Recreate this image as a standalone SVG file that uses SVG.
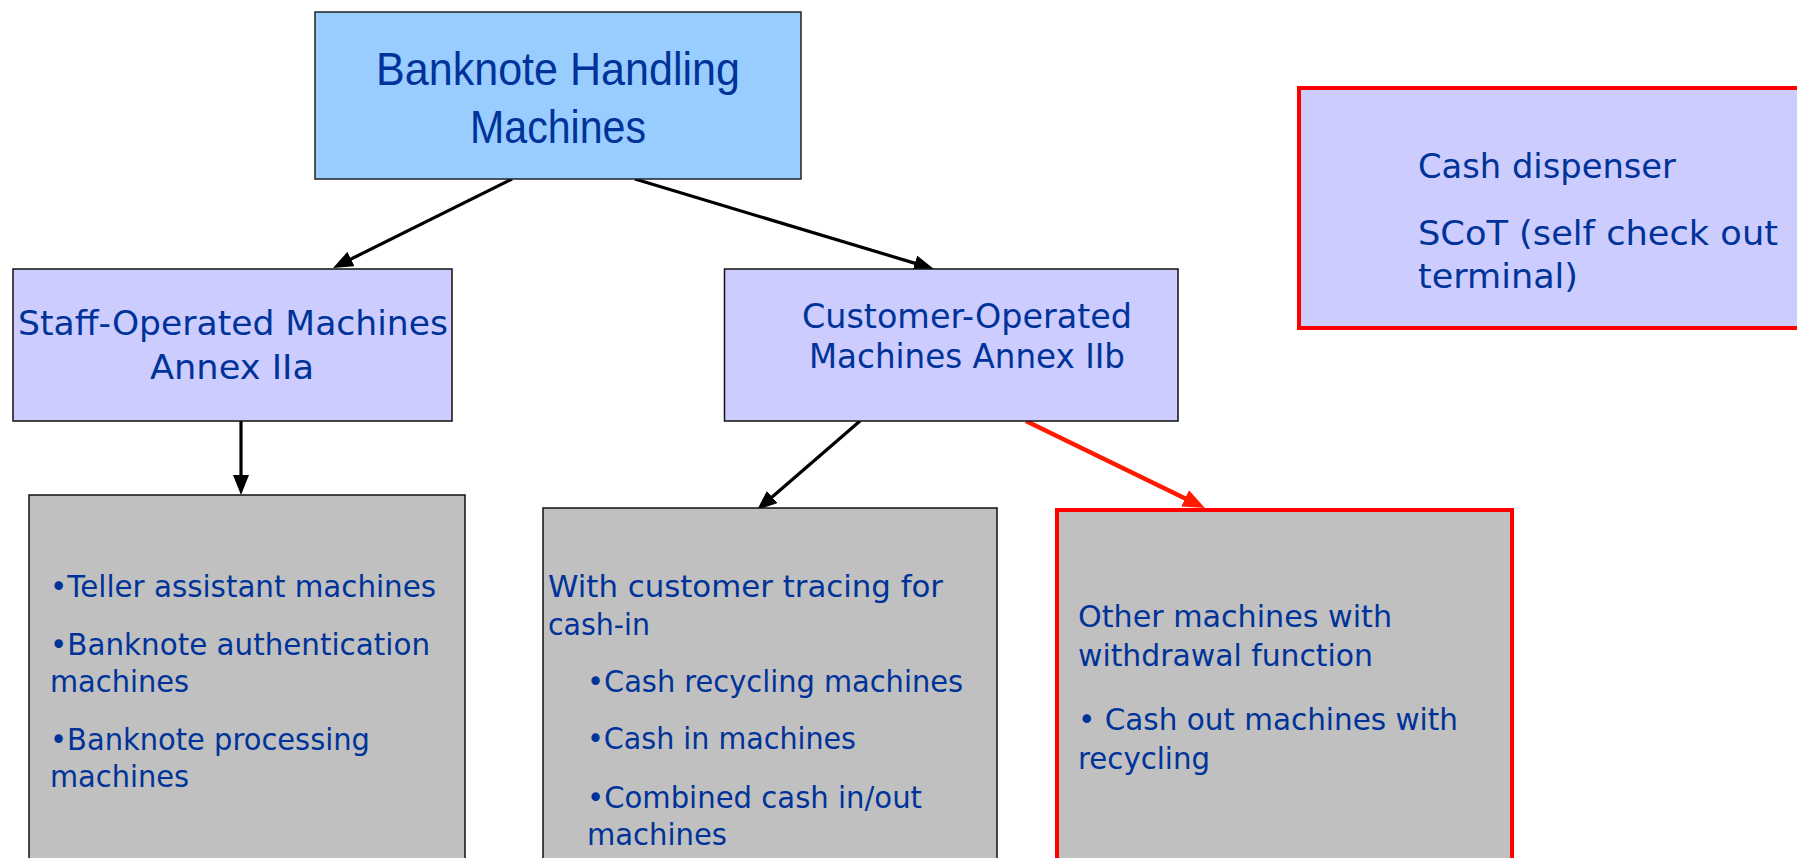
<svg xmlns="http://www.w3.org/2000/svg" width="1797" height="858" viewBox="0 0 1797 858">
<style>
.t{font-family:"DejaVu Sans","Liberation Sans",sans-serif;fill:#003399}
.title{font-family:"Liberation Sans","DejaVu Sans",sans-serif;fill:#003399;font-size:47px}
.blue{fill:#CCCCFF;stroke:#111;stroke-width:1.5}
.gray{fill:#C0C0C0;stroke:#111;stroke-width:1.5}
.red{fill:#C0C0C0;stroke:#FF0000;stroke-width:4}
.conn{stroke:#000;stroke-width:3.2;fill:none;marker-end:url(#ah)}
.connr{stroke:#FF1A00;stroke-width:4.5;fill:none;marker-end:url(#ahr)}
</style>
<defs>
<marker id="ah" markerUnits="userSpaceOnUse" markerWidth="20" markerHeight="16" refX="10" refY="8" orient="auto">
<path d="M0,0 L20,8 L0,16 z" fill="#000"/>
</marker>
<marker id="ahr" markerUnits="userSpaceOnUse" markerWidth="22" markerHeight="18" refX="11" refY="9" orient="auto">
<path d="M0,0 L22,9 L0,18 z" fill="#FF1A00"/>
</marker>
</defs>
<rect width="1797" height="858" fill="#fff"/>

<g id="connectors">
<line class="conn" x1="512" y1="179" x2="342" y2="263.5"/>
<line class="conn" x1="635" y1="179" x2="924.4" y2="266.1"/>
<line class="conn" x1="241" y1="421" x2="241" y2="485"/>
<line class="conn" x1="860" y1="421" x2="764.6" y2="503.5"/>
<line class="connr" x1="1026" y1="421" x2="1195" y2="503.2"/>
</g>

<g id="root">
<rect x="315" y="12" width="486" height="167" fill="#99CCFF" stroke="#222" stroke-width="1.5"/>
<text class="title" x="376" y="85" textLength="364" lengthAdjust="spacingAndGlyphs">Banknote Handling</text>
<text class="title" x="470" y="143" textLength="176" lengthAdjust="spacingAndGlyphs">Machines</text>
</g>

<g id="staff">
<rect class="blue" x="13" y="269" width="439" height="152"/>
<text class="t" font-size="34.5" x="18" y="335" textLength="430" lengthAdjust="spacingAndGlyphs">Staff-Operated Machines</text>
<text class="t" font-size="34.5" x="150" y="379" textLength="164" lengthAdjust="spacingAndGlyphs">Annex IIa</text>
</g>

<g id="customer">
<rect class="blue" x="724.5" y="269" width="453.5" height="152"/>
<text class="t" font-size="33" x="802" y="328" textLength="330" lengthAdjust="spacingAndGlyphs">Customer-Operated</text>
<text class="t" font-size="33" x="809" y="368" textLength="316" lengthAdjust="spacingAndGlyphs">Machines Annex IIb</text>
</g>

<g id="cashdispenser">
<rect x="1299" y="88" width="520" height="240" fill="#CCCCFF" stroke="#FF0000" stroke-width="4"/>
<text class="t" font-size="33.5" x="1418" y="178" textLength="258" lengthAdjust="spacingAndGlyphs">Cash dispenser</text>
<text class="t" font-size="33.5" x="1418" y="245" textLength="360" lengthAdjust="spacingAndGlyphs">SCoT (self check out</text>
<text class="t" font-size="33.5" x="1418" y="288" textLength="160" lengthAdjust="spacingAndGlyphs">terminal)</text>
</g>

<g id="staffmachines">
<rect class="gray" x="29" y="495" width="436" height="380"/>
<text class="t" font-size="30" x="50" y="597" textLength="386" lengthAdjust="spacingAndGlyphs">•Teller assistant machines</text>
<text class="t" font-size="30" x="50" y="655" textLength="380" lengthAdjust="spacingAndGlyphs">•Banknote authentication</text>
<text class="t" font-size="30" x="50" y="692" textLength="139" lengthAdjust="spacingAndGlyphs">machines</text>
<text class="t" font-size="30" x="50" y="750" textLength="320" lengthAdjust="spacingAndGlyphs">•Banknote processing</text>
<text class="t" font-size="30" x="50" y="787" textLength="139" lengthAdjust="spacingAndGlyphs">machines</text>
</g>

<g id="cashin">
<rect class="gray" x="543" y="508" width="454" height="370"/>
<text class="t" font-size="30" x="548" y="597" textLength="395" lengthAdjust="spacingAndGlyphs">With customer tracing for</text>
<text class="t" font-size="30" x="548" y="635" textLength="102" lengthAdjust="spacingAndGlyphs">cash-in</text>
<text class="t" font-size="30" x="587" y="692" textLength="376" lengthAdjust="spacingAndGlyphs">•Cash recycling machines</text>
<text class="t" font-size="30" x="587" y="749" textLength="269" lengthAdjust="spacingAndGlyphs">•Cash in machines</text>
<text class="t" font-size="30" x="587" y="808" textLength="335" lengthAdjust="spacingAndGlyphs">•Combined cash in/out</text>
<text class="t" font-size="30" x="587" y="845" textLength="140" lengthAdjust="spacingAndGlyphs">machines</text>
</g>

<g id="withdrawal">
<rect class="red" x="1057" y="510" width="455" height="370"/>
<text class="t" font-size="30" x="1078" y="627" textLength="314" lengthAdjust="spacingAndGlyphs">Other machines with</text>
<text class="t" font-size="30" x="1078" y="666" textLength="295" lengthAdjust="spacingAndGlyphs">withdrawal function</text>
<text class="t" font-size="30" x="1078" y="730" textLength="380" lengthAdjust="spacingAndGlyphs">• Cash out machines with</text>
<text class="t" font-size="30" x="1078" y="769" textLength="132" lengthAdjust="spacingAndGlyphs">recycling</text>
</g>
</svg>
